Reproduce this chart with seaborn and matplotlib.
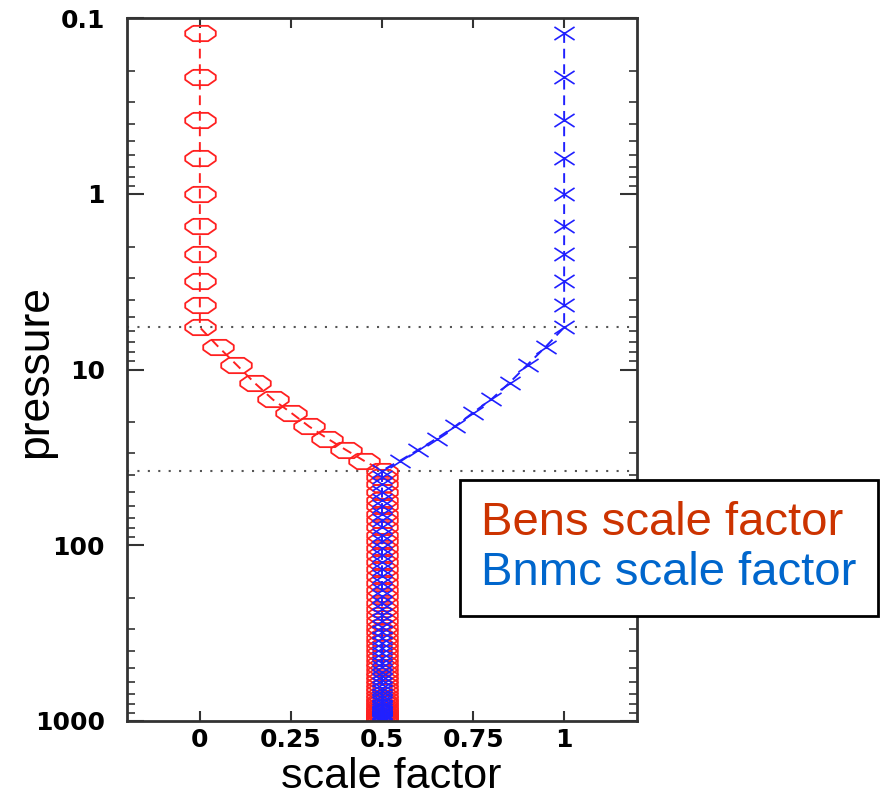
import numpy as np
import pandas as pd
import matplotlib
matplotlib.use("Agg")
import matplotlib.pyplot as plt
from matplotlib.path import Path
from matplotlib.lines import Line2D
import seaborn as sns

# ---- data ----
pressure_upper = [0.122, 0.217, 0.381, 0.628, 1.0, 1.53, 2.21, 3.15, 4.32, 5.76]
pressure_mid = [7.4, 9.37, 11.9, 14.8, 17.6, 21.1, 24.7, 28.6, 33.0, 37.6]
pressure_lower = [41, 45, 50, 55, 60, 66, 72, 79, 87, 95, 104, 114, 125, 137, 150,
                  164, 179, 195, 212, 230, 249, 269, 290, 312, 335, 359, 384, 410,
                  437, 465, 494, 524, 555, 586, 617, 648, 679, 709, 738, 766, 793,
                  818, 842, 864, 884, 902, 918, 932, 944, 955, 964, 972, 979, 985,
                  990, 994, 997, 999]
bens_upper = [0.0] * 10
bens_mid = [0.05, 0.1, 0.15, 0.2, 0.25, 0.3, 0.35, 0.4, 0.45, 0.5]
bnmc_upper = [1.0] * 10
bnmc_mid = [0.95, 0.9, 0.85, 0.8, 0.75, 0.7, 0.65, 0.6, 0.55, 0.5]
lower_value = 0.5
blend_levels = [5.76, 37.6]
x_ticks = [0, 0.25, 0.5, 0.75, 1]
x_tick_labels = ["0", "0.25", "0.5", "0.75", "1"]
y_ticks = [0.1, 1, 10, 100, 1000]
y_tick_labels = ["0.1", "1", "10", "100", "1000"]
series_names = ["Bens scale factor", "Bnmc scale factor"]

pressure = pressure_upper + pressure_mid + pressure_lower
bens = bens_upper + bens_mid + [lower_value] * len(pressure_lower)
bnmc = bnmc_upper + bnmc_mid + [lower_value] * len(pressure_lower)
df_bens = pd.DataFrame({"scale": bens, "pressure": pressure})
df_bnmc = pd.DataFrame({"scale": bnmc, "pressure": pressure})

# ---- style ----
sns.set_theme(style="ticks")
plt.rcParams["font.family"] = ["Liberation Sans", "DejaVu Sans"]

fig = plt.figure(figsize=(8.88, 7.98), dpi=100)
ax = fig.add_axes([127 / 888, 1 - 721 / 798, (637 - 127) / 888, (721 - 18) / 798])

octagon = [(-0.5, 0.5), (0.5, 0.5), (1, 0.15), (1, -0.15), (0.5, -0.5),
           (-0.5, -0.5), (-1, -0.15), (-1, 0.15), (-0.5, 0.5)]
xmark = Path([(-1, -0.65), (1, 0.65), (-1, 0.65), (1, -0.65)],
             [Path.MOVETO, Path.LINETO, Path.MOVETO, Path.LINETO])

sns.lineplot(data=df_bens, x="scale", y="pressure", sort=False, estimator=None,
             ax=ax, color="#ff2020", linestyle=(0, (5, 3)), linewidth=1.4,
             marker=octagon, markersize=22, markerfacecolor="none",
             markeredgecolor="#ff2020", markeredgewidth=1.3)
sns.lineplot(data=df_bnmc, x="scale", y="pressure", sort=False, estimator=None,
             ax=ax, color="#2020ff", linestyle=(0, (5, 3)), linewidth=1.4,
             marker=xmark, markersize=14.5, markerfacecolor="none",
             markeredgecolor="#2020ff", markeredgewidth=1.2)

for lev in blend_levels:
    ax.axhline(lev, color="#555555", linestyle=(0, (1, 4)), linewidth=1.5, zorder=0)

ax.set_yscale("log")
ax.set_ylim(1000, 0.1)
ax.set_xlim(-0.2, 1.2)
ax.set_xticks(x_ticks)
ax.set_xticklabels(x_tick_labels)
ax.set_yticks(y_ticks)
ax.set_yticklabels(y_tick_labels)

for lab in ax.get_xticklabels() + ax.get_yticklabels():
    lab.set_fontfamily("DejaVu Sans")
    lab.set_fontweight("bold")
    lab.set_fontsize(18)
    lab.set_color("black")

ax.tick_params(axis="both", which="both", direction="in", top=True, right=True,
               colors="#333333", labelcolor="black")
ax.tick_params(axis="y", which="major", length=12, width=1.5, pad=16)
ax.tick_params(axis="y", which="minor", length=6, width=1.2)
ax.tick_params(axis="x", which="major", length=7, width=1.5, pad=5)
ax.tick_params(axis="x", which="minor", bottom=False, top=False)
for sp in ax.spines.values():
    sp.set_color("#333333")
    sp.set_linewidth(2)

ax.set_xlabel("scale factor", fontsize=31, color="black")
ax.set_ylabel("pressure", fontsize=32, color="black")
ax.xaxis.set_label_coords((391 - 127) / 510, (721 - 757) / 703)
ax.yaxis.set_label_coords((56 - 127) / 510, 1 - (372 - 18) / 703)

handles = [Line2D([], [], linestyle="none") for _ in series_names]
leg = fig.legend(handles, series_names, loc="upper left",
                 bbox_to_anchor=(460 / 888, 1 - 480 / 798),
                 handlelength=0, handletextpad=0, fontsize=34,
                 frameon=True, fancybox=False, edgecolor="black", framealpha=1,
                 borderpad=0.45, labelspacing=0.12, borderaxespad=0)
leg.get_frame().set_linewidth(2)
leg.get_texts()[0].set_color("#cc3300")
leg.get_texts()[1].set_color("#0066cc")

fig.savefig("out.png", dpi=100)
